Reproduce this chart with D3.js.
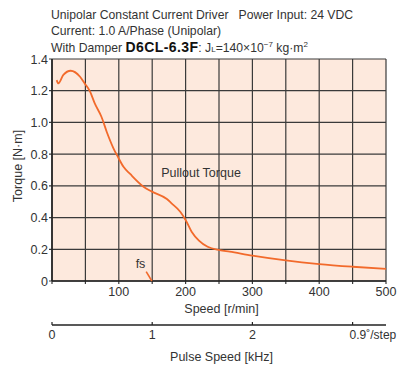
<!DOCTYPE html>
<html><head><meta charset="utf-8">
<script src="https://cdn.jsdelivr.net/npm/d3@7"></script>
<style>
body{margin:0;background:#fff;}
svg{display:block;font-family:"Liberation Sans",Arial,sans-serif;}
text{fill:#333;white-space:pre;}
</style></head><body>
<svg id="c" width="398" height="367"></svg>
<script>
// ---- data ----
const speed  = [7, 9.5, 17, 28, 42, 49, 57, 64, 74, 82, 92, 99, 107, 117, 137, 149, 172, 179, 192, 200, 209, 220, 233, 251, 266, 300, 350, 400, 450, 500];
const torque = [1.267, 1.246, 1.30, 1.326, 1.288, 1.246, 1.194, 1.12, 1.036, 0.94, 0.837, 0.78, 0.72, 0.675, 0.595, 0.565, 0.517, 0.49, 0.437, 0.385, 0.311, 0.255, 0.216, 0.195, 0.185, 0.16, 0.13, 0.107, 0.09, 0.076];
const fsSpeed  = [141, 149.5];
const fsTorque = [0.059, 0];
const speedTicks = [100, 200, 300, 400, 500];
const torqueTicks = [0, 0.2, 0.4, 0.6, 0.8, 1.0, 1.2, 1.4];
const pulseTicks = [0, 1, 2, 3];
const pulseTickLabels = ["0", "1", "2", "0.9˚/step"];
const titleLines = ["Unipolar Constant Current Driver   Power Input: 24 VDC", "Current: 1.0 A/Phase (Unipolar)"];

const svg = d3.select("#c");
const L = 52, R = 386, T = 59, B = 281;
const x = d3.scaleLinear().domain([0, 500]).range([L, R]);
const y = d3.scaleLinear().domain([0, 1.4]).range([B, T]);
const xp = d3.scaleLinear().domain([0, 500 / 150]).range([L, R]);

const grid = "#3a3a3a";
svg.append("rect").attr("x", L).attr("y", T).attr("width", R - L).attr("height", B - T).attr("fill", "#fde9dd");

const gx = d3.range(0, 501, 50);
svg.append("g").selectAll("line").data(gx).join("line")
  .attr("x1", d => x(d)).attr("x2", d => x(d)).attr("y1", T).attr("y2", B + 3)
  .attr("stroke", grid).attr("stroke-width", 1.2);
svg.append("g").selectAll("line").data(torqueTicks).join("line")
  .attr("x1", L - 3).attr("x2", R).attr("y1", d => y(d)).attr("y2", d => y(d))
  .attr("stroke", grid).attr("stroke-width", 1.2);
svg.append("line").attr("x1", L).attr("x2", L).attr("y1", T).attr("y2", B).attr("stroke", "#222").attr("stroke-width", 1.6);
svg.append("line").attr("x1", L).attr("x2", R).attr("y1", B).attr("y2", B).attr("stroke", "#222").attr("stroke-width", 1.6);

const line = d3.line().x(d => x(d[0])).y(d => y(d[1])).curve(d3.curveMonotoneX);
svg.append("path").datum(speed.map((s, i) => [s, torque[i]]))
  .attr("d", line).attr("fill", "none").attr("stroke", "#f26a2b").attr("stroke-width", 1.8);
svg.append("path").datum(fsSpeed.map((s, i) => [s, fsTorque[i]]))
  .attr("d", d3.line().x(d => x(d[0])).y(d => y(d[1]))).attr("fill", "none").attr("stroke", "#f26a2b").attr("stroke-width", 1.6);

const fs = 12.5;
svg.append("g").selectAll("text").data(torqueTicks).join("text")
  .attr("x", L - 4).attr("y", d => y(d)).attr("dy", "0.36em").attr("text-anchor", "end")
  .attr("font-size", fs).text(d => d === 0 ? "0" : d.toFixed(1));
svg.append("g").selectAll("text").data(speedTicks).join("text")
  .attr("x", d => x(d)).attr("y", 296).attr("text-anchor", "middle")
  .attr("font-size", fs).text(d => d);
svg.append("text").attr("x", 221.5).attr("y", 312.5).attr("text-anchor", "middle").attr("font-size", fs).text("Speed [r/min]");
svg.append("text").attr("transform", "translate(22,166) rotate(-90)").attr("text-anchor", "middle").attr("font-size", fs).text("Torque [N·m]");

svg.append("line").attr("x1", L).attr("x2", R).attr("y1", 325).attr("y2", 325).attr("stroke", "#222").attr("stroke-width", 1.4);
svg.append("g").selectAll("line").data(pulseTicks).join("line")
  .attr("x1", d => xp(d)).attr("x2", d => xp(d)).attr("y1", 322).attr("y2", 325).attr("stroke", "#222").attr("stroke-width", 1.2);
svg.append("g").selectAll("text").data(pulseTicks).join("text")
  .attr("x", (d, i) => i === 3 ? xp(d) - 3 : xp(d)).attr("y", 338.5)
  .attr("text-anchor", (d, i) => i === 3 ? "start" : "middle")
  .attr("font-size", (d, i) => i === 3 ? 12 : fs).text((d, i) => pulseTickLabels[i]);
svg.append("text").attr("x", 221.5).attr("y", 360.5).attr("text-anchor", "middle").attr("font-size", fs).text("Pulse Speed [kHz]");

svg.append("text").attr("x", 201).attr("y", 176.5).attr("text-anchor", "middle").attr("font-size", fs).text("Pullout Torque");
svg.append("text").attr("x", 140.5).attr("y", 267.5).attr("text-anchor", "middle").attr("font-size", fs).text("fs");

const tfs = 12.2;
titleLines.forEach((t, i) => {
  svg.append("text").attr("x", 51).attr("y", 18.5 + i * 16.5).attr("font-size", tfs).text(t);
});
const t3 = svg.append("text").attr("x", 51).attr("y", 51.5).attr("font-size", tfs);
t3.append("tspan").text("With Damper ");
t3.append("tspan").attr("font-weight", "bold").attr("font-size", 14).attr("letter-spacing", 0.4).attr("fill", "#111").text("D6CL-6.3F");
t3.append("tspan").text(": J");
t3.append("tspan").attr("font-size", 8).text("L");
t3.append("tspan").text("=140×10");
t3.append("tspan").attr("font-size", 8).attr("dy", -5).text("−7");
t3.append("tspan").attr("dy", 5).text(" kg·m");
t3.append("tspan").attr("font-size", 8).attr("dy", -5).text("2");
</script></body></html>
